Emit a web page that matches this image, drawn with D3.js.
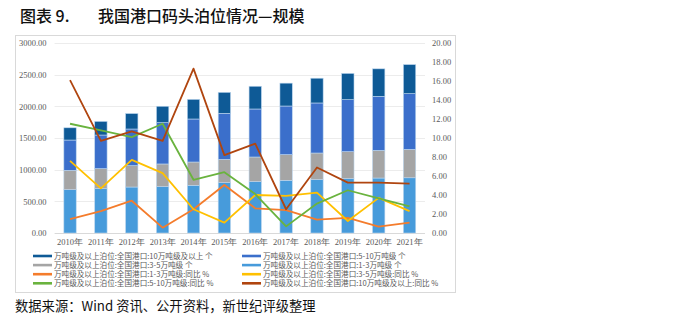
<!DOCTYPE html>
<html><head><meta charset="utf-8">
<script src="https://cdn.jsdelivr.net/npm/d3@7"></script>
<style>body{margin:0;background:#fff}svg{display:block}</style>
</head><body>
<svg id="c" width="700" height="322"></svg>
<script>
const years = ["2010年","2011年","2012年","2013年","2014年","2015年","2016年","2017年","2018年","2019年","2020年","2021年"];
const b1to3 = [684,700,726,731,753,795,811,832,842,858,868,872];
const b3to5 = [306,316,337,359,368,368,389,405,421,426,437,449];
const b5to10 = [478,531,579,652,679,727,758,768,790,821,853,879];
const b10up = [193,215,244,259,310,331,359,361,391,415,434,459];
const yoy1to3 = [1.45,2.3,3.4,0.56,2.5,5.05,2.6,2.4,1.4,1.6,0.67,1.1];
const yoy3to5 = [7.6,4.7,7.7,6.3,2.5,1.1,4.0,3.9,4.25,1.26,3.7,2.3];
const yoy5to10 = [11.5,10.8,10.1,11.5,5.6,6.4,4.1,0.7,3.1,4.5,3.65,2.8];
const yoy10up = [16.1,9.7,10.7,9.7,17.3,8.2,9.4,2.5,6.9,5.3,5.3,5.2];
const leftTicks = [0,500,1000,1500,2000,2500,3000];
const rightTicks = [0,2,4,6,8,10,12,14,16,18,20];
const legendNames = [
 "万吨级及以上泊位:全国港口:10万吨级及以上 个","万吨级及以上泊位:全国港口:5-10万吨级 个",
 "万吨级及以上泊位:全国港口:3-5万吨级 个","万吨级及以上泊位:全国港口:1-3万吨级 个",
 "万吨级及以上泊位:全国港口:1-3万吨级:同比 %","万吨级及以上泊位:全国港口:3-5万吨级:同比 %",
 "万吨级及以上泊位:全国港口:5-10万吨级:同比 %","万吨级及以上泊位:全国港口:10万吨级及以上:同比 %"];

const svg = d3.select("#c");
const cBar = {b1to3:"#479BDB", b3to5:"#A5A5A5", b5to10:"#3B6FCB", b10up:"#0E5A96"};
const cLine = {yoy1to3:"#F47C2C", yoy3to5:"#FFC000", yoy5to10:"#6AB33E", yoy10up:"#B0450F"};

// title
svg.append("text").attr("x",20).attr("y",22).attr("font-family","Noto Sans CJK SC").attr("font-size",16).attr("font-weight",500).attr("fill","#111").text("图表 9.");
svg.append("text").attr("x",98).attr("y",22).attr("font-family","Noto Sans CJK SC").attr("font-size",16).attr("font-weight",500).attr("fill","#111").text("我国港口码头泊位情况—规模");

// frame
svg.append("rect").attr("x",15.5).attr("y",35.5).attr("width",440).attr("height",257).attr("fill","#fff").attr("stroke","#d9d9d9");

const x = d3.scaleBand().domain(years).range([54.6,425]).paddingInner(0.6).paddingOuter(0.3);
const yL = d3.scaleLinear().domain([0,3000]).range([233,43]);
const yR = d3.scaleLinear().domain([0,20]).range([233,43]);

// grid
svg.append("g").selectAll("line").data(leftTicks).join("line")
 .attr("x1",54.6).attr("x2",425).attr("y1",d=>Math.round(yL(d))+0.5).attr("y2",d=>Math.round(yL(d))+0.5)
 .attr("stroke",d=>d===0?"#d9d9d9":"#ececec").attr("stroke-width",1);

// axes
const axL = svg.append("g").attr("transform","translate(54.6,0)").call(d3.axisLeft(yL).tickValues(leftTicks).tickFormat(d3.format(".2f")).tickSize(0).tickPadding(8));
const axR = svg.append("g").attr("transform","translate(425,0)").call(d3.axisRight(yR).tickValues(rightTicks).tickFormat(d3.format(".2f")).tickSize(0).tickPadding(7));
const axX = svg.append("g").attr("transform","translate(0,233)").call(d3.axisBottom(x).tickSize(0).tickPadding(6));
[axL,axR,axX].forEach(a=>{a.select(".domain").remove();a.selectAll("text").attr("font-family","Liberation Serif").attr("font-size",8.5).attr("fill","#595959");});

// stacked bars
const rows = years.map((y,i)=>({year:y,b1to3:b1to3[i],b3to5:b3to5[i],b5to10:b5to10[i],b10up:b10up[i]}));
const stack = d3.stack().keys(["b1to3","b3to5","b5to10","b10up"])(rows);
svg.append("g").selectAll("g").data(stack).join("g").attr("fill",s=>cBar[s.key])
 .selectAll("rect").data(s=>s).join("rect")
 .attr("x",d=>x(d.data.year)).attr("width",x.bandwidth())
 .attr("y",d=>yL(d[1])).attr("height",d=>yL(d[0])-yL(d[1]))
 .attr("stroke","#bcd6ee").attr("stroke-width",0.6);

// lines
const lineSeries = [["yoy1to3",yoy1to3],["yoy3to5",yoy3to5],["yoy5to10",yoy5to10],["yoy10up",yoy10up]];
const lg = d3.line().x((d,i)=>x(years[i])+x.bandwidth()/2).y(d=>yR(d));
svg.append("g").selectAll("path").data(lineSeries).join("path")
 .attr("d",d=>lg(d[1])).attr("fill","none").attr("stroke",d=>cLine[d[0]]).attr("stroke-width",1.8).attr("stroke-linejoin","round");

// legend
const legColors = [cBar.b10up,cBar.b5to10,cBar.b3to5,cBar.b1to3,cLine.yoy1to3,cLine.yoy3to5,cLine.yoy5to10,cLine.yoy10up];
const leg = svg.append("g");
legendNames.forEach((n,i)=>{
  const col=i%2,row=Math.floor(i/2);
  const lx = col===0?33:242, ly = 256+row*9.1;
  leg.append("line").attr("x1",lx).attr("x2",lx+19).attr("y1",ly).attr("y2",ly).attr("stroke",legColors[i]).attr("stroke-width",2.6);
  leg.append("text").attr("x",lx+21).attr("y",ly+2.8).attr("font-family","Noto Sans CJK SC").attr("font-size",7.6).attr("fill","#595959").text(n);
});

// footer
svg.append("text").attr("x",15).attr("y",311).attr("font-family","Noto Sans CJK SC").attr("font-size",13.3).attr("fill","#111").text("数据来源：Wind 资讯、公开资料，新世纪评级整理");
</script>
</body></html>
